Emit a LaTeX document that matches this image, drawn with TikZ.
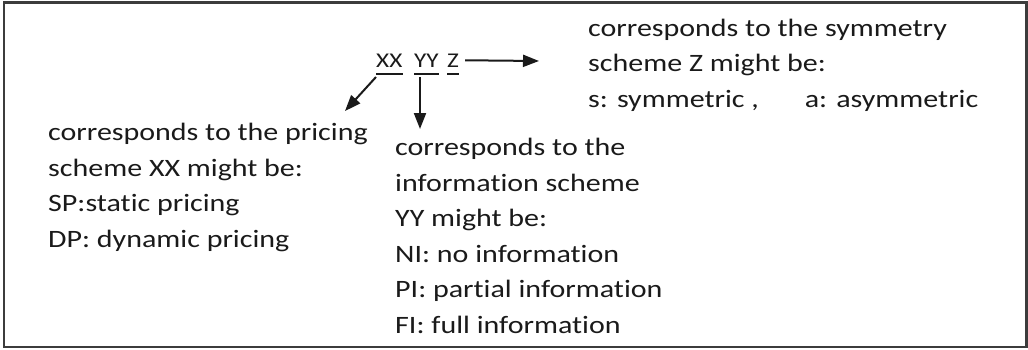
\documentclass[tikz,border=0pt]{standalone}
\usepackage{fontspec}
\setmainfont{Carlito}[FakeStretch=1.2, Ligatures=NoCommon]
\usetikzlibrary{arrows.meta}
\definecolor{color_text}{HTML}{1A1A1A}
\definecolor{color_frame}{HTML}{3C3C3C}
\tikzset{
  frame_box/.style={draw=color_frame, line width=2.5pt},
  block_text/.style={font=\fontsize{25}{35.5}\selectfont, text=color_text, align=left, inner sep=0pt, anchor=base west},
  code_text/.style={font=\fontsize{21}{24}\selectfont, text=color_text, inner sep=0pt, anchor=base west},
  code_under/.style={draw=color_text, line width=1.8pt},
  pointer_arrow/.style={-{Triangle[length=16pt, width=12pt]}, draw=color_text, line width=2pt},
}

\begin{document}
\begin{tikzpicture}[x=1pt, y=-1pt]
    \useasboundingbox (0,0) rectangle (1028,349);
    \draw[frame_box] (4,2.5) rectangle (1026.5,347);
    % scheme code
    \node[code_text] (xx) at (376,67) {XX};
    \node[code_text] (yy) at (414,67) {YY};
    \node[code_text] (z) at (447,67) {Z};
    \draw[code_under] ([yshift=-7pt]xx.base west) -- ([yshift=-7pt]xx.base east);
    \draw[code_under] ([yshift=-7pt]yy.base west) -- ([yshift=-7pt]yy.base east);
    \draw[code_under] ([yshift=-7pt]z.base west) -- ([yshift=-7pt]z.base east);
    % explanations (base = last line)
    \node[block_text] (sym_text) at (588,107)
      {corresponds to the symmetry\\scheme Z might be:\\s: symmetric ,\hspace{46pt}a: asymmetric};
    \node[block_text] (price_text) at (48,247)
      {corresponds to the pricing\\scheme XX might be:\\SP:static pricing\\DP: dynamic pricing};
    \node[block_text] (info_text) at (395,333)
      {corresponds to the\\information scheme\\YY might be:\\NI: no information\\PI: partial information\\FI: full information};
    % pointers
    \coordinate (xx_end) at (345,111);
    \coordinate (yy_end) at (420,129);
    \coordinate (z_end) at (539,61);
    \draw[pointer_arrow] ([yshift=-10pt]xx.base west) -- (xx_end);
    \draw[pointer_arrow] ([xshift=6pt, yshift=-10pt]yy.base west) -- (yy_end);
    \draw[pointer_arrow] ([xshift=6pt]z.east) -- (z_end);
\end{tikzpicture}
\end{document}
